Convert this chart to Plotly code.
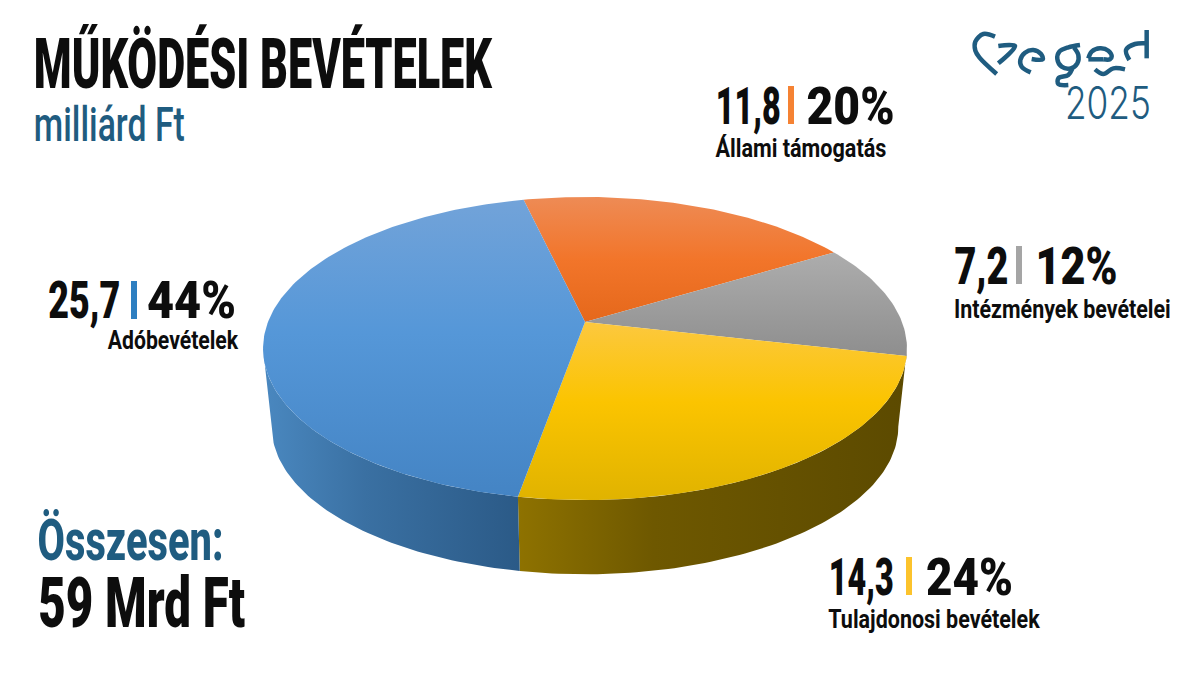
import json
import math
import plotly.graph_objects as go

# slices clockwise starting from the orange one
categories = ["Állami támogatás", "Intézmények bevételei", "Tulajdonosi bevételek", "Adóbevételek"]
values = [11.8, 7.2, 14.3, 25.7]
percents = [20, 12, 24, 44]
total_label = "59 Mrd Ft"

DARK = "#0d0d0d"
TEAL = "#1f5c80"
FONT = "Roboto"

# colorscale position 0 is the bottom of the slice on screen
top_colors = [
    [[0, "#e5681b"], [0.5, "#f2752a"], [1, "#ee8b55"]],
    [[0, "#8e8e8e"], [1, "#adadad"]],
    [[0, "#e0b300"], [0.55, "#fbc400"], [1, "#fcc83f"]],
    [[0, "#4484c4"], [0.55, "#5597d8"], [1, "#72a3d9"]],
]
bar_colors = ["#f58233", "#a5a5a5", "#fcc32c", "#2e7fc1"]

# perspective of the tilted pie, in page pixels
CX, CY = 585, 322
A, B, K = 317, 146.9, 0.175
START = 346.9
DEPTH, SHRINK = 79, 0.973


def rim(theta, lower=False):
    t = math.radians(theta)
    X, Y = math.sin(t), math.cos(t)
    f = 1 / (1 + K * Y)
    if lower:
        return CX + SHRINK * A * X * f, CY + DEPTH - SHRINK * B * Y * f
    return CX + A * X * f, CY - B * Y * f


def arc(a, b, lower=False):
    n = max(2, int(abs(b - a)))
    pts = [rim(a + (b - a) * i / n, lower) for i in range(n + 1)]
    return [p[0] for p in pts], [p[1] for p in pts]


fig = go.Figure()

# slice angles come from the values
edges = [START]
for v in values:
    edges.append(edges[-1] + v / sum(values) * 360)

right_w = 90 + math.degrees(math.asin(K))
left_w = 360 - right_w


def add_wall(a, b, scale):
    x1, y1 = arc(a, b)
    x2, y2 = arc(b, a, lower=True)
    fig.add_trace(go.Scatter(x=x1 + x2, y=y1 + y2, mode="lines", fill="toself", line=dict(width=0),
                             fillgradient=dict(type="horizontal", colorscale=scale),
                             hoverinfo="skip", showlegend=False))


add_wall(right_w, edges[3] % 360, [[0, "#8e7200"], [0.35, "#6e5800"], [1, "#5c4a00"]])
add_wall(edges[3] % 360, left_w, [[0, "#4a88c0"], [0.4, "#3a70a2"], [1, "#2b5a87"]])

for i, cat in enumerate(categories):
    xs, ys = arc(edges[i], edges[i + 1])
    fig.add_trace(go.Scatter(x=[CX] + xs + [CX], y=[CY] + ys + [CY], mode="lines", fill="toself",
                             line=dict(width=0), name=cat,
                             fillgradient=dict(type="vertical", colorscale=top_colors[i]),
                             hoverinfo="skip", showlegend=False))

# logo strokes, points (3x, origin at 940,10)
logo = [
    [(165, 80), (130, 72), (106, 95), (106, 122), (118, 142), (170, 192)],
    [(175, 108), (225, 108), (175, 160)],
    [(272, 187), (245, 170), (241, 150), (255, 128), (280, 120), (303, 132), (308, 148), (275, 147)],
    [(420, 105), (385, 112), (358, 125), (352, 147), (365, 170), (392, 175), (412, 160), (415, 135), (402, 113)],
    [(397, 176), (385, 195), (355, 205), (355, 222), (385, 225)],
    [(445, 148), (490, 148)],
    [(445, 145), (455, 125), (480, 115), (505, 122), (515, 140), (510, 148), (490, 148)],
    [(465, 178), (490, 192), (520, 175), (555, 178)],
    [(620, 60), (620, 145)],
    [(620, 100), (585, 102), (558, 120), (568, 150)],
]
for stroke in logo:
    fig.add_trace(go.Scatter(x=[940 + p[0] / 3 for p in stroke], y=[10 + p[1] / 3 for p in stroke],
                             mode="lines", line=dict(color=TEAL, width=4.5, shape="spline"),
                             hoverinfo="skip", showlegend=False))

# pixel boxes of the labels around each slice
fmt = lambda v: f"{v:.1f}".replace(".", ",")
label_pos = [
    dict(num=(715, 780), bar=(788, 794), pct=(806, 894), name=(715, 886), y=106, ny=148, h=(86, 124)),
    dict(num=(954, 1008), bar=(1016, 1022), pct=(1035, 1117), name=(954, 1171), y=266, ny=309, h=(246, 284)),
    dict(num=(828, 893), bar=(906, 912), pct=(926, 1013), name=(828, 1040), y=577, ny=619, h=(557, 595)),
    dict(num=(48, 120), bar=(131, 137), pct=(147, 236), name=(107, 238), y=300, ny=340, h=(281, 319)),
]

annots = []
widths = []


def put(text, x0, x1, y, size, color=DARK, family=FONT, weight=900):
    annots.append(dict(text=text, x=(x0 + x1) / 2, y=y, xref="x", yref="y", xanchor="center", yanchor="middle",
                       showarrow=False, font=dict(family=family, size=size, color=color, weight=weight)))
    widths.append(x1 - x0)


put("MŰKÖDÉSI BEVÉTELEK", 34, 493, 63, 71)
put("milliárd Ft", 34, 185, 124, 48, color=TEAL, weight=500)
put("Összesen:", 37, 223, 540, 58, color=TEAL, weight=800)
put(total_label, 38, 245, 602, 71)
put("2025", 1065, 1151, 102, 45, color=TEAL, family="Inter", weight=300)

shapes = []
for i, cat in enumerate(categories):
    p = label_pos[i]
    put(fmt(values[i]), p["num"][0], p["num"][1], p["y"], 51)
    put(f"{percents[i]}%", p["pct"][0], p["pct"][1], p["y"], 51)
    put(cat, p["name"][0], p["name"][1], p["ny"], 25, weight=700)
    shapes.append(dict(type="rect", x0=p["bar"][0], x1=p["bar"][1], y0=p["h"][0], y1=p["h"][1],
                       xref="x", yref="y", line=dict(width=0), fillcolor=bar_colors[i]))

fig.update_layout(
    width=1200, height=675, margin=dict(l=0, r=0, t=0, b=0),
    paper_bgcolor="white", plot_bgcolor="white", showlegend=False,
    annotations=annots, shapes=shapes,
    xaxis=dict(range=[0, 1200], visible=False, fixedrange=True),
    yaxis=dict(range=[675, 0], visible=False, fixedrange=True),
)

# no condensed display font is installed: squeeze each text to its width
squeeze = """
document.body.style.margin = '0';
var w = %s;
var els = document.querySelectorAll('.annotation-text');
els.forEach(function(t, i) {
  var b = t.getBBox();
  var c = b.x + b.width / 2;
  t.setAttribute('transform', 'translate(' + c + ' 0) scale(' + (w[i] / b.width) + ' 1) translate(' + (-c) + ' 0)');
});
""" % json.dumps(widths)

fig.write_html("out.html", post_script=squeeze, config=dict(displayModeBar=False))
